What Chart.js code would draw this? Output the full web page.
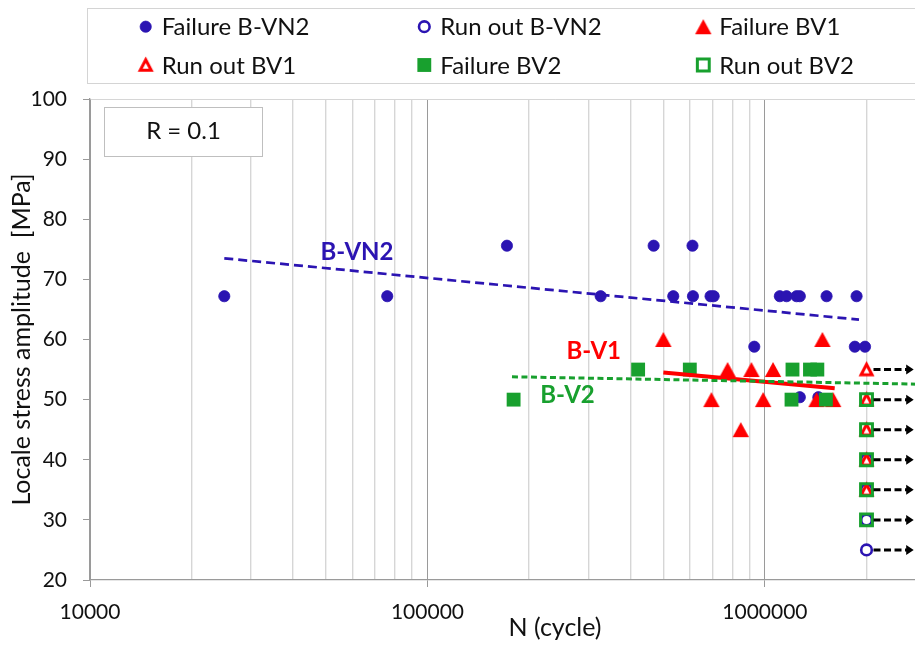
<!DOCTYPE html>
<html>
<head>
<meta charset="utf-8">
<script src="https://cdn.jsdelivr.net/npm/chart.js@4.4.1/dist/chart.umd.min.js"></script>
<style>
  html, body { margin: 0; padding: 0; background: #fff; overflow: hidden; }
  #frame { width: 915px; height: 645px; overflow: hidden; position: relative; }
  #plot { position: absolute; left: 0; top: 0; }
</style>
</head>
<body>
<div id="frame"><canvas id="plot" width="1060" height="645"></canvas></div>
<script>
// ---- S-N fatigue results, R = 0.1 (N in cycles, stress amplitude in MPa) ----

// Failures, series B-VN2
const failVN2N = [25000, 76000, 172000, 326000, 468000, 535000, 610000, 612000, 690000, 705000,
                  930000, 1107000, 1159000, 1241000, 1269000, 1269000, 1440000, 1523000, 1847000, 1869000, 1980000];
const failVN2S = [67.2, 67.2, 75.6, 67.2, 75.6, 67.2, 75.6, 67.2, 67.2, 67.2,
                  58.8, 67.2, 67.2, 67.2, 67.2, 50.4, 50.4, 67.2, 58.8, 67.2, 58.8];

// Failures, series BV1
const failBV1N = [500000, 1480000, 775000, 912000, 1057000, 694000, 988000, 1422000, 1593000, 848000];
const failBV1S = [60, 60, 55, 55, 55, 50, 50, 50, 50, 45];

// Failures, series BV2
const failBV2N = [180000, 421000, 599000, 1207000, 1360000, 1430000, 1199000, 1516000];
const failBV2S = [50, 55, 55, 55, 55, 55, 50, 50];

// Run-outs (test stopped without failure)
const runOutN = 2000000;
const runVN2S = [40, 35, 30, 25];
const runBV1S = [55, 50, 45, 40, 35];
const runBV2S = [50, 45, 40, 35, 30];

// Trend lines (end points)
const trendVN2N = [25000, 1900000];
const trendVN2S = [73.5, 63.3];
const trendBV1N = [500000, 1610000];
const trendBV1S = [54.5, 51.9];
const trendBV2N = [178000, 3000000];
const trendBV2S = [53.8, 52.55];

// Trend line names and where they sit (N, MPa)
const trendNames = ['B-VN2', 'B-V1', 'B-V2'];
const trendNameN = [61800, 311000, 260000];
const trendNameS = [74.6, 58.2, 50.8];

// Axes
const xGridValues = [10000, 20000, 30000, 40000, 50000, 60000, 70000, 80000, 90000,
                     100000, 200000, 300000, 400000, 500000, 600000, 700000, 800000, 900000,
                     1000000, 2000000, 3000000, 4000000, 5000000];
const xLabelValues = [10000, 100000, 1000000];
const xMin = 10000, xMax = 5700000;
const yMin = 20, yMax = 100, yStep = 10;
const arrowTipN = 2760000;
const ratioLabel = 'R = 0.1';

// ---- styling ----
const BLUE = '#2B14B2';
const RED = '#FF0000';
const GREEN = '#18A02E';
const FONT = 'Lato, "Liberation Sans", sans-serif';

function triangleSprite(w, h, fill, stroke, lw) {
  const pad = lw ? lw * 1.6 : 1;
  const c = document.createElement('canvas');
  c.width = Math.round(w + 2 * pad);
  c.height = Math.round(h + 2 * pad);
  const g = c.getContext('2d');
  const cx = c.width / 2, cy = c.height / 2;
  g.beginPath();
  g.moveTo(cx, cy - h / 2);
  g.lineTo(cx + w / 2, cy + h / 2);
  g.lineTo(cx - w / 2, cy + h / 2);
  g.closePath();
  if (fill) { g.fillStyle = fill; g.fill(); }
  if (lw) { g.lineWidth = lw; g.strokeStyle = stroke; g.lineJoin = 'miter'; g.stroke(); }
  return c;
}
const triFilled = triangleSprite(16.4, 15.2, RED, null, 0);
const triOpen = triangleSprite(11, 10.5, '#ffffff', RED, 3);

const pts = (xs, ys) => xs.map((n, i) => ({ x: n, y: ys[i] }));
const flat = (n, ys) => ys.map(s => ({ x: n, y: s }));

const markerSets = [
  { label: 'Failure B-VN2', data: pts(failVN2N, failVN2S), pointStyle: 'circle', pointRadius: 5.6,
    backgroundColor: BLUE, borderColor: BLUE, borderWidth: 0.8, order: 8 },
  { label: 'Run out B-VN2', data: flat(runOutN, runVN2S), pointStyle: 'circle', pointRadius: 5.3,
    backgroundColor: '#ffffff', borderColor: BLUE, borderWidth: 2.6, order: 7 },
  { label: 'Failure BV1', data: pts(failBV1N, failBV1S), pointStyle: triFilled, pointRadius: 8,
    backgroundColor: RED, borderColor: RED, borderWidth: 0, order: 6 },
  { label: 'Run out BV1', data: flat(runOutN, runBV1S), pointStyle: triOpen, pointRadius: 7,
    backgroundColor: '#ffffff', borderColor: RED, borderWidth: 0, order: 5 },
  { label: 'Failure BV2', data: pts(failBV2N, failBV2S), pointStyle: 'rect', pointRadius: 9.8,
    backgroundColor: GREEN, borderColor: GREEN, borderWidth: 0, order: 4 },
  { label: 'Run out BV2', data: flat(runOutN, runBV2S), pointStyle: 'rect', pointRadius: 8.4,
    backgroundColor: 'rgba(0,0,0,0)', borderColor: GREEN, borderWidth: 3, order: 3 }
];

const trendSets = [
  { label: 'trend B-VN2', data: pts(trendVN2N, trendVN2S), showLine: true, pointRadius: 0,
    borderColor: BLUE, borderWidth: 2.7, borderDash: [9, 5], order: 2 },
  { label: 'trend B-V1', data: pts(trendBV1N, trendBV1S), showLine: true, pointRadius: 0,
    borderColor: RED, borderWidth: 4, order: 1 },
  { label: 'trend B-V2', data: pts(trendBV2N, trendBV2S), showLine: true, pointRadius: 0,
    borderColor: GREEN, borderWidth: 3, borderDash: [6, 3.5], order: 0 }
];
const trendColors = [BLUE, RED, GREEN];

function drawMarker(ctx, ds, x, y) {
  ctx.save();
  ctx.fillStyle = ds.backgroundColor;
  ctx.strokeStyle = ds.borderColor;
  ctx.lineWidth = ds.borderWidth;
  Chart.helpers.drawPoint(ctx, {
    pointStyle: ds.pointStyle, rotation: 0, radius: ds.pointRadius, borderWidth: ds.borderWidth
  }, x, y);
  ctx.restore();
}

// Legend box, run-out arrows, trend names and the load-ratio box
const decorations = {
  id: 'decorations',
  afterDatasetsDraw(chart) {
    const { ctx, chartArea } = chart;
    const xs = chart.scales.x, ys = chart.scales.y;

    // run-out arrows
    const levels = [...new Set([...runVN2S, ...runBV1S, ...runBV2S])];
    const x0 = xs.getPixelForValue(runOutN) + 7;
    const tip = xs.getPixelForValue(arrowTipN);
    ctx.save();
    levels.forEach(s => {
      const py = ys.getPixelForValue(s);
      ctx.strokeStyle = '#000';
      ctx.lineWidth = 3;
      ctx.setLineDash([7, 3.5]);
      ctx.beginPath();
      ctx.moveTo(x0, py);
      ctx.lineTo(tip - 5, py);
      ctx.stroke();
      ctx.setLineDash([]);
      ctx.fillStyle = '#000';
      ctx.beginPath();
      ctx.moveTo(tip, py);
      ctx.lineTo(tip - 7.5, py - 5);
      ctx.lineTo(tip - 7.5, py + 5);
      ctx.closePath();
      ctx.fill();
    });
    ctx.restore();

    // trend line names
    ctx.save();
    ctx.font = 'bold 24px ' + FONT;
    ctx.textAlign = 'center';
    ctx.textBaseline = 'alphabetic';
    trendNames.forEach((t, i) => {
      ctx.fillStyle = trendColors[i];
      ctx.fillText(t, xs.getPixelForValue(trendNameN[i]), ys.getPixelForValue(trendNameS[i]) + 8.6);
    });
    ctx.restore();

    // load ratio box
    ctx.save();
    const bx = Math.round(chartArea.left) + 14.5, by = Math.round(chartArea.top) + 8.5;
    ctx.fillStyle = '#fff';
    ctx.fillRect(bx, by, 158, 49);
    ctx.strokeStyle = '#bfbfbf';
    ctx.lineWidth = 1;
    ctx.strokeRect(bx, by, 158, 49);
    ctx.fillStyle = '#111';
    ctx.font = '24px ' + FONT;
    ctx.textAlign = 'center';
    ctx.textBaseline = 'alphabetic';
    ctx.fillText(ratioLabel, bx + 79, by + 31);
    ctx.restore();
  },
  afterDraw(chart) {
    const { ctx } = chart;
    ctx.save();
    ctx.strokeStyle = '#d4d4d4';
    ctx.lineWidth = 1;
    ctx.strokeRect(87.5, 8.5, 935, 75);
    const cols = [145.7, 424.3, 703.3];
    const rows = [26.7, 65];
    ctx.font = '24px ' + FONT;
    ctx.textAlign = 'left';
    ctx.textBaseline = 'alphabetic';
    markerSets.forEach((ds, i) => {
      const cx = cols[i % 3], cy = rows[Math.floor(i / 3)];
      drawMarker(ctx, ds, cx, cy);
      ctx.fillStyle = '#111';
      ctx.fillText(ds.label, cx + 16, cy + 8.5);
    });
    ctx.restore();
  }
};

new Chart(document.getElementById('plot'), {
  type: 'scatter',
  data: { datasets: [...markerSets, ...trendSets] },
  options: {
    responsive: false,
    animation: false,
    events: [],
    layout: { padding: { top: 99, right: 40, left: 0, bottom: 0 } },
    plugins: { legend: { display: false }, tooltip: { enabled: false } },
    scales: {
      x: {
        type: 'logarithmic',
        min: xMin,
        max: xMax,
        afterBuildTicks: s => { s.ticks = xGridValues.map(v => ({ value: v })); },
        afterFit: s => { s.height = 65; },
        ticks: {
          autoSkip: false, maxRotation: 0, minRotation: 0, padding: 13,
          color: '#111', font: { family: FONT, size: 21 },
          callback: v => xLabelValues.includes(v) ? String(v) : ''
        },
        grid: {
          color: c => xLabelValues.includes(c.tick && c.tick.value) ? '#9a9a9a' : '#d6d6d6',
          lineWidth: c => xLabelValues.includes(c.tick && c.tick.value) ? 1 : 1.4,
          tickColor: c => xLabelValues.includes(c.tick && c.tick.value) ? '#9a9a9a' : 'rgba(0,0,0,0)',
          tickLength: 7
        },
        border: { color: '#9a9a9a', width: 1.3 },
        title: {
          display: true, text: 'N (cycle)', color: '#111',
          font: { family: FONT, size: 25 }, padding: { top: 0, bottom: 2 }
        }
      },
      y: {
        min: yMin,
        max: yMax,
        afterFit: s => { s.width = 90; },
        ticks: { stepSize: yStep, padding: 16, color: '#111', font: { family: FONT, size: 21 } },
        grid: {
          color: c => (c.tick && c.tick.value === yMax) ? '#d6d6d6' : 'rgba(0,0,0,0)',
          tickColor: '#9a9a9a',
          tickLength: 7
        },
        border: { color: '#9a9a9a', width: 1.3 },
        title: {
          display: true, text: 'Locale stress amplitude  [MPa]', color: '#111',
          font: { family: FONT, size: 25 }, padding: { top: 7, bottom: 0 }
        }
      }
    }
  },
  plugins: [decorations]
});
</script>
</body>
</html>
